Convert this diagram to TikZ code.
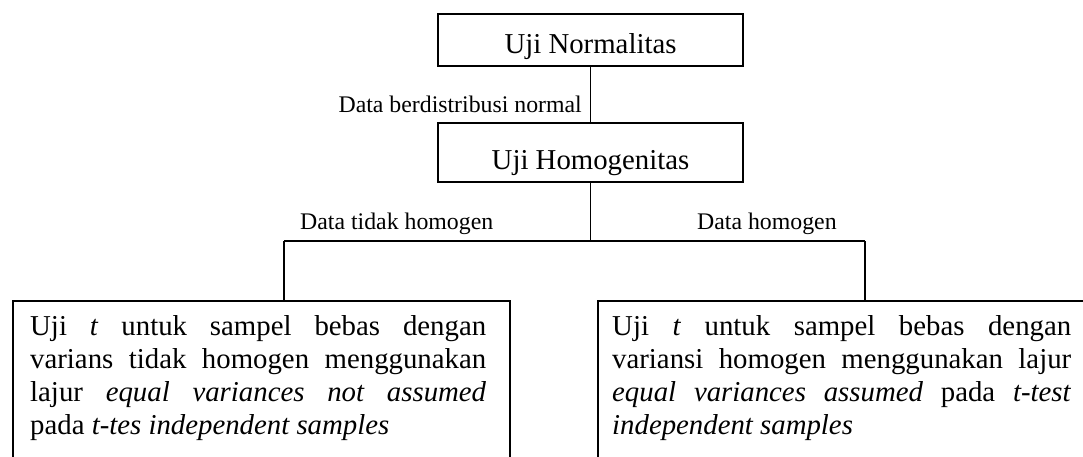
\documentclass[tikz,border=0pt]{standalone}
\usepackage{fontspec}
\setmainfont{Liberation Serif}
\hyphenpenalty=10000
\exhyphenpenalty=10000
\tikzset{
  line/.style={line width=1.6pt},
  topbox/.style={draw, line width=1.6pt, minimum width=305pt, inner sep=0pt, anchor=base,
    font=\fontsize{28.8pt}{33.1pt}\selectfont},
  lbl/.style={inner sep=0pt, font=\fontsize{23.8pt}{27pt}\selectfont},
  frame/.style={draw, line width=1.6pt, inner sep=0pt, anchor=north west, minimum height=220pt},
  bodytext/.style={inner sep=0pt, anchor=north west,
    font=\fontsize{28.8pt}{33.1pt}\selectfont}
}
\newcommand{\firststrut}{\vrule height 35pt depth 0pt width 0pt\relax}
\begin{document}
\begin{tikzpicture}[x=1pt,y=-1pt]
\useasboundingbox (0,0) rectangle (1083,457);
\clip (0,0) rectangle (1083,457);
\fill[white] (0,0) rectangle (1083,457);

\node[topbox, text height=40pt, text depth=12pt] (n1) at (590.5,54) {Uji Normalitas};
\node[topbox, text height=47pt, text depth=12pt] (n2) at (590.5,170) {Uji Homogenitas};

\node[lbl, anchor=base east] (l1) at (582,113) {Data berdistribusi normal};
\node[lbl, anchor=base west] (l2) at (300,229) {Data tidak homogen};
\node[lbl, anchor=base west] (l3) at (697,229) {Data homogen};

\node[frame, minimum width=497pt] (lb) at (12,300) {};
\node[frame, minimum width=500pt] (rb) at (597,300) {};

\node[bodytext] (lt) at ([xshift=18pt]lb.north west)
  {\parbox[t]{456pt}{\firststrut Uji \textit{t} untuk sampel bebas dengan\linebreak
   varians tidak homogen menggunakan\linebreak
   lajur \textit{equal variances not assumed}\linebreak
   pada \textit{t-tes independent samples}}};
\node[bodytext] (rt) at ([xshift=15pt]rb.north west)
  {\parbox[t]{459pt}{\firststrut Uji \textit{t} untuk sampel bebas dengan\linebreak
   variansi homogen menggunakan lajur\linebreak
   \textit{equal variances assumed} pada \textit{t-test}\linebreak
   \textit{independent samples}}};

\coordinate (j) at (590.5,241);
\coordinate (jl) at (284,241);
\coordinate (jr) at (865,241);
\draw[line] (n1.south) -- (n2.north);
\draw[line] (n2.south) -- (j);
\draw[line] (jl) -- (jr);
\draw[line] (jl) -- (jl |- lb.north);
\draw[line] (jr) -- (jr |- rb.north);
\end{tikzpicture}
\end{document}
